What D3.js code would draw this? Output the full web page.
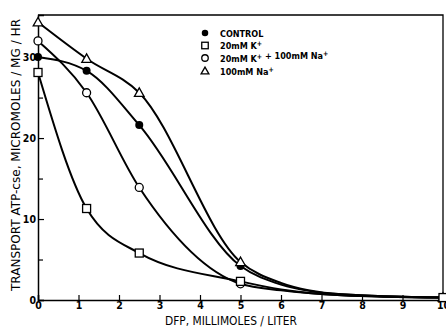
<!DOCTYPE html>
<html><head><meta charset="utf-8">
<script src="https://cdn.jsdelivr.net/npm/d3@7"></script>
<style>
body{margin:0;background:#fff;}
svg{display:block;font-family:"Liberation Sans Narrow","DejaVu Sans Condensed","Liberation Sans",sans-serif;}
</style></head><body>
<svg id="c" width="446" height="327"></svg>
<script>
const xTicks = [0,1,2,3,4,5,6,7,8,9,10];
const yTicks = [0,10,20,30];
const yMinor = [5,15,25];
const seriesNames = ["CONTROL","20mM K⁺","20mM K⁺ + 100mM Na⁺","100mM Na⁺"];
const seriesShapes = ["filled","square","circle","triangle"];
// measured points (markers)
const controlX = [0,1.2,2.5,5,10];
const controlY = [30,28.3,21.6,4.2,0.3];
const kX = [0,1.2,2.5,5,10];
const kY = [28.1,11.3,5.8,2.3,0.3];
const kNaX = [0,1.2,2.5,5,10];
const kNaY = [32.0,25.6,13.9,2.0,0.3];
const naX = [0,1.2,2.5,5,10];
const naY = [34.3,29.8,25.6,4.7,0.3];
// hand-drawn curve readings beyond x=5
const tailX = [6,7.5];
const controlTail = [1.9,0.7];
const kTail = [1.3,0.6];
const kNaTail = [1.2,0.6];
const naTail = [2.1,0.7];

const svg = d3.select("#c");
const x = d3.scaleLinear().domain([0,10]).range([38,443]);
const y = d3.scaleLinear().domain([0,35.2]).range([300,15]);

const series = [
  {name:seriesNames[0], shape:seriesShapes[0], xs:controlX, ys:controlY, tail:controlTail},
  {name:seriesNames[1], shape:seriesShapes[1], xs:kX, ys:kY, tail:kTail},
  {name:seriesNames[2], shape:seriesShapes[2], xs:kNaX, ys:kNaY, tail:kNaTail},
  {name:seriesNames[3], shape:seriesShapes[3], xs:naX, ys:naY, tail:naTail}
];

// frame
svg.append("path").attr("d",`M${x(0)},${y(35.2)}H${x(10)}V${y(0)}`)
  .attr("fill","none").attr("stroke","#000").attr("stroke-width",1.3);

const xa = svg.append("g").attr("transform",`translate(0,${y(0)})`)
  .call(d3.axisBottom(x).tickValues(xTicks).tickSize(-5).tickPadding(2).tickFormat(d3.format("d")));
const ya = svg.append("g").attr("transform",`translate(${x(0)},0)`)
  .call(d3.axisLeft(y).tickValues(yTicks).tickSize(-6).tickPadding(2).tickFormat(d3.format("d")));
const ym = svg.append("g").attr("transform",`translate(${x(0)},0)`)
  .call(d3.axisLeft(y).tickValues(yMinor).tickSize(-5).tickFormat(""));
[xa,ya,ym].forEach(g=>{
  g.select(".domain").attr("stroke","#000").attr("stroke-width",1.5);
  g.selectAll(".tick line").attr("stroke","#000").attr("stroke-width",1.2);
  g.selectAll("text").attr("fill","#000").attr("font-size",10.5).attr("font-weight","bold")
   .attr("font-family","'Liberation Sans Narrow','DejaVu Sans Condensed',sans-serif");
});
ym.select(".domain").remove();

const line = d3.line().x(d=>x(d[0])).y(d=>y(d[1])).curve(d3.curveMonotoneX);
series.forEach(s=>{
  const pts = s.xs.map((v,i)=>[v,s.ys[i]]);
  tailX.forEach((v,i)=>pts.push([v,s.tail[i]]));
  pts.sort((a,b)=>a[0]-b[0]);
  svg.append("path").attr("d",line(pts)).attr("fill","none")
    .attr("stroke","#000").attr("stroke-width",2);
});

function marker(g, shape, cx, cy, sz){
  if(shape==="filled") g.append("circle").attr("cx",cx).attr("cy",cy).attr("r",sz/2).attr("fill","#000");
  else if(shape==="circle") g.append("circle").attr("cx",cx).attr("cy",cy).attr("r",sz/2).attr("fill","#fff").attr("stroke","#000").attr("stroke-width",1.3);
  else if(shape==="square") g.append("rect").attr("x",cx-sz/2).attr("y",cy-sz/2).attr("width",sz).attr("height",sz).attr("fill","#fff").attr("stroke","#000").attr("stroke-width",1.3);
  else g.append("path").attr("d",`M${cx},${cy-sz*0.6}L${cx+sz*0.6},${cy+sz*0.45}L${cx-sz*0.6},${cy+sz*0.45}Z`).attr("fill","#fff").attr("stroke","#000").attr("stroke-width",1.3);
}
const mg = svg.append("g");
[series[2],series[0],series[3],series[1]].forEach(s=>{
  s.xs.forEach((v,i)=>marker(mg, s.shape, x(v), y(s.ys[i]), 8));
});

// legend
const lg = svg.append("g");
const legY = [33,45.5,58,71];
series.forEach((s,i)=>{
  marker(lg, s.shape, 205, legY[i], 6.5);
  const t = lg.append("text").attr("x",220).attr("y",legY[i]+3.5).attr("font-size",9).attr("font-weight","bold")
    .attr("font-family","'Liberation Sans Narrow','DejaVu Sans Condensed',sans-serif");
  s.name.split(/(⁺)/).filter(p=>p!=="").forEach(p=>{
    if(p==="⁺") t.append("tspan").attr("dy",-3).attr("font-size",7).text("+")
                 .each(function(){ d3.select(this.parentNode).append("tspan").attr("dy",3).text(""); });
    else t.append("tspan").text(p);
  });
});

// axis titles
svg.append("text").attr("x",231).attr("y",325).attr("text-anchor","middle")
  .attr("font-size",12).attr("textLength",132).attr("lengthAdjust","spacingAndGlyphs")
  .text("DFP, MILLIMOLES / LITER");
svg.append("text").attr("transform","translate(20,155) rotate(-90)").attr("text-anchor","middle")
  .attr("font-size",12.5).attr("textLength",272).attr("lengthAdjust","spacingAndGlyphs")
  .text("TRANSPORT ATP-cse, MICROMOLES / MG / HR");
</script></body></html>
